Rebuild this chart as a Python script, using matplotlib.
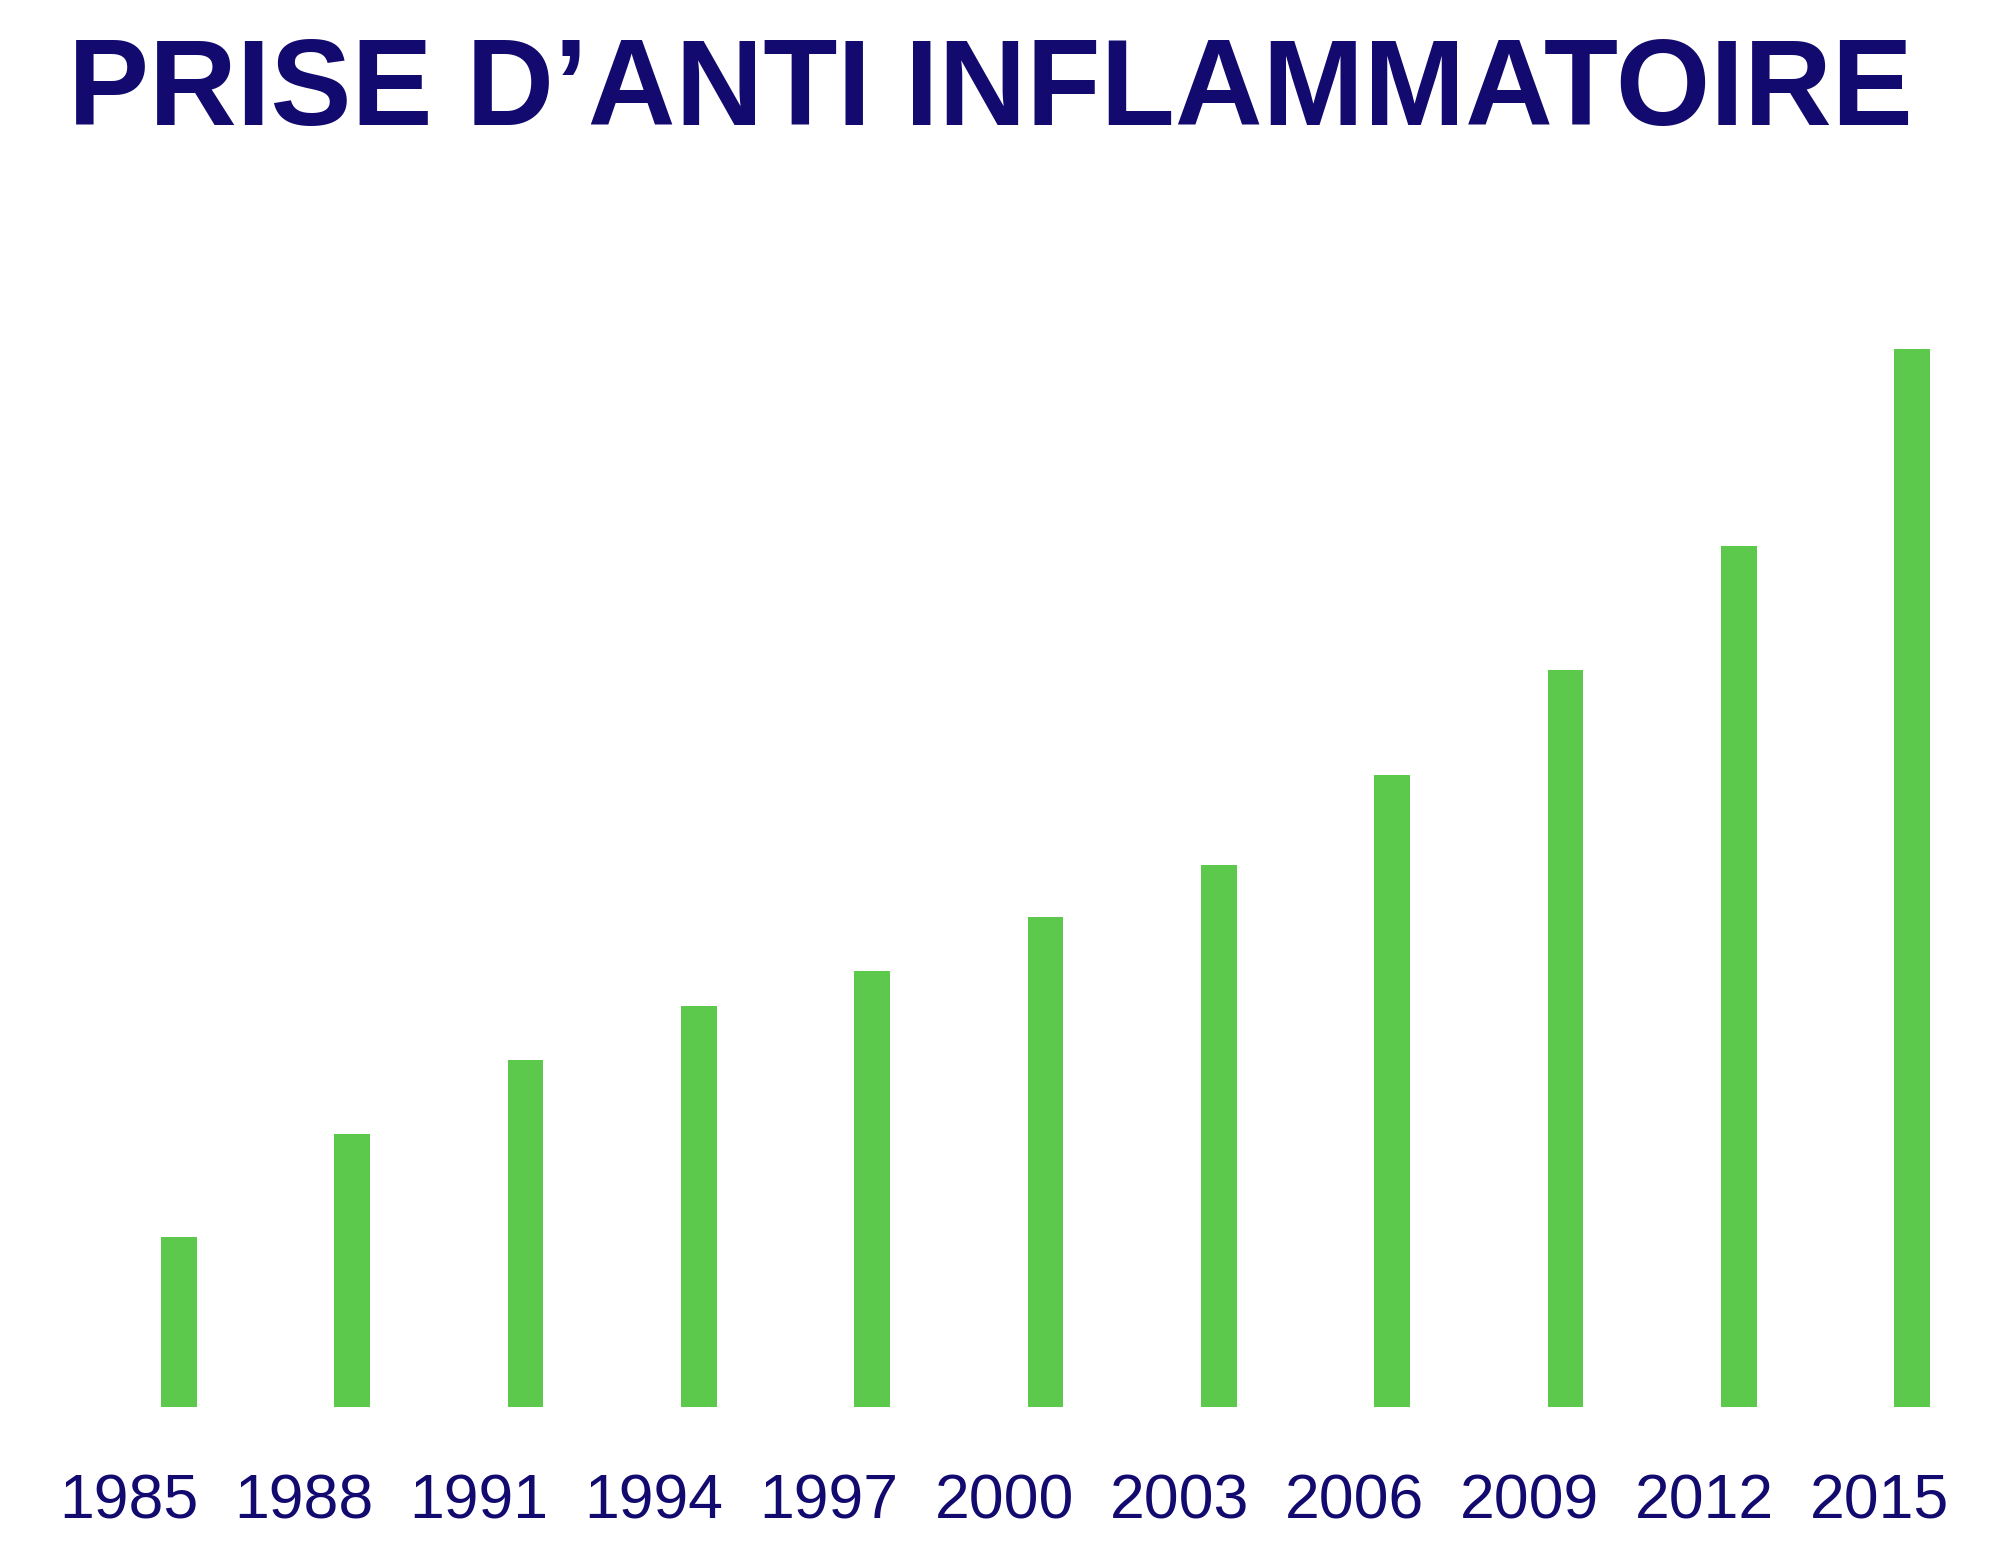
import matplotlib.pyplot as plt
import numpy as np

# data
years = ['1985', '1988', '1991', '1994', '1997', '2000', '2003', '2006', '2009', '2012', '2015']
values = [133, 214, 272, 314, 342, 384, 425, 495, 578, 675, 829]

navy = '#120a6e'
green = '#5cc94d'

fig = plt.figure(figsize=(19.98, 15.46), dpi=100)
ax = fig.add_axes([0.0115, 0.090, 0.9673, 0.745])

x = np.arange(len(years))
ax.bar(x, values, width=0.206, color=green)

ax.set_xlim(-0.9, 10.25)
ax.set_ylim(0, 903)

# labels sit a little left of the bars in the original
ax.set_xticks(-0.287 + 1.0096 * x)
ax.set_xticklabels(years, fontsize=45, color=navy,
                   family=['Liberation Sans', 'DejaVu Sans'])
ax.tick_params(axis='x', length=0, pad=47)
ax.set_yticks([])
for s in ax.spines.values():
    s.set_visible(False)

fig.text(0.4955, 0.940, "PRISE D\u2019ANTI INFLAMMATOIRE", ha='center', va='center',
         fontsize=87.5, fontweight='bold', color=navy,
         family=['Liberation Sans', 'DejaVu Sans'])

fig.savefig('out.png', dpi=100, facecolor='white')
